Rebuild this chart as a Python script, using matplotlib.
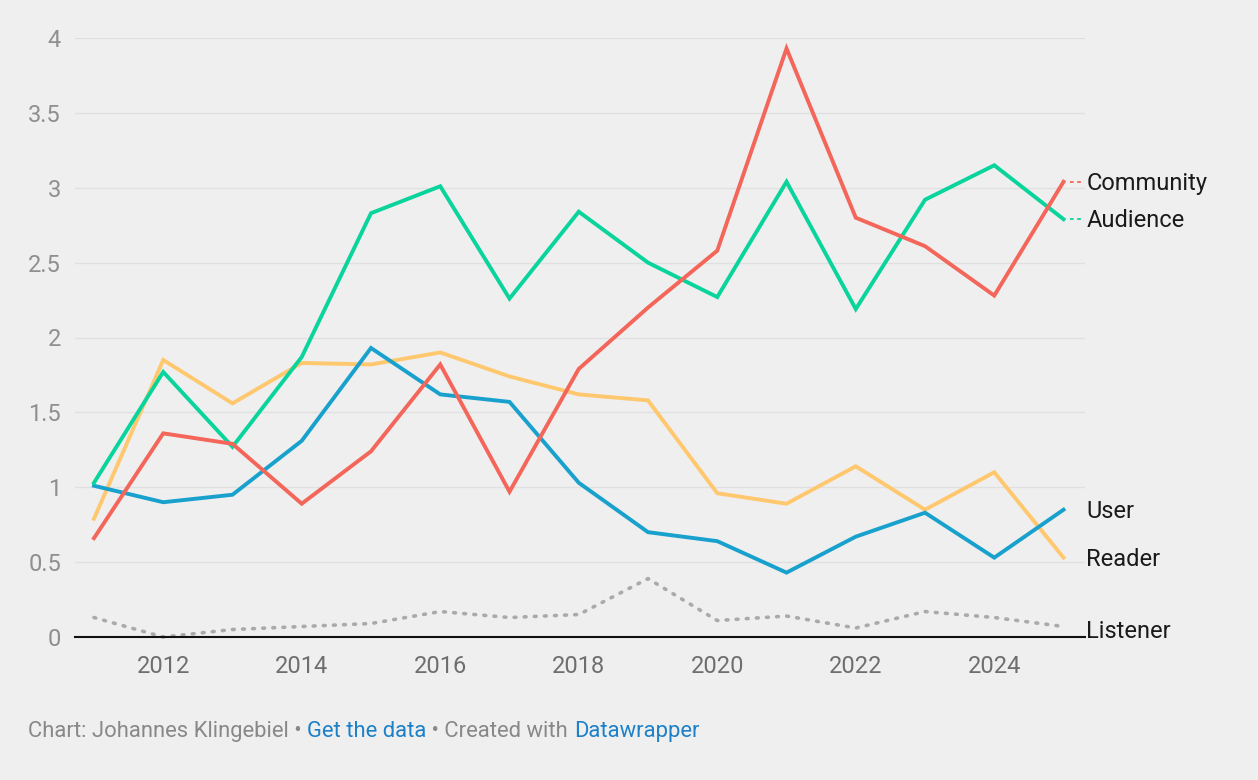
import numpy as np
import matplotlib.pyplot as plt

plt.rcParams['font.family'] = ['Roboto', 'DejaVu Sans']

years = list(range(2011, 2026))
community = [0.66, 1.36, 1.29, 0.89, 1.24, 1.82, 0.97, 1.79, 2.20, 2.58, 3.93, 2.80, 2.61, 2.28, 3.04]
audience = [1.03, 1.77, 1.27, 1.87, 2.83, 3.01, 2.26, 2.84, 2.50, 2.27, 3.04, 2.19, 2.92, 3.15, 2.79]
reader = [0.79, 1.85, 1.56, 1.83, 1.82, 1.90, 1.74, 1.62, 1.58, 0.96, 0.89, 1.14, 0.85, 1.10, 0.53]
user = [1.01, 0.90, 0.95, 1.31, 1.93, 1.62, 1.57, 1.03, 0.70, 0.64, 0.43, 0.67, 0.83, 0.53, 0.85]
listener = [0.13, 0.0, 0.05, 0.07, 0.09, 0.17, 0.13, 0.15, 0.39, 0.11, 0.14, 0.06, 0.17, 0.13, 0.07]

yticks = [0, 0.5, 1, 1.5, 2, 2.5, 3, 3.5, 4]
ytick_labels = ['0', '0.5', '1', '1.5', '2', '2.5', '3', '3.5', '4']
xticks = [2012, 2014, 2016, 2018, 2020, 2022, 2024]

bg = '#efefef'
fig = plt.figure(figsize=(12.58, 7.80), dpi=100, facecolor=bg)
ax = fig.add_axes([75/1258, 143/780, 1010/1258, 599/780], facecolor=bg)

series = [
    ('Reader', reader, '#ffc86e'),
    ('User', user, '#18a1cd'),
    ('Audience', audience, '#09d49b'),
    ('Community', community, '#f4655a'),
]
ax.plot(years, listener, color='#aaaaaa', lw=2.6, ls=(0, (0.5, 2.3)),
        dash_capstyle='round', clip_on=False, zorder=3)
for name, vals, col in series:
    ax.plot(years, vals, color=col, lw=2.8, solid_joinstyle='miter', clip_on=False, zorder=4)

ax.set_xlim(2010.726, 2025.31)
ax.set_ylim(0, 4)
ax.set_yticks(yticks)
ax.set_yticklabels(ytick_labels)
ax.set_xticks(xticks)
ax.grid(axis='y', color='#e0e0e0', lw=1)
ax.set_axisbelow(True)
for s in ['top', 'right', 'left']:
    ax.spines[s].set_visible(False)
ax.spines['bottom'].set_color('#111111')
ax.spines['bottom'].set_linewidth(1.5)
ax.spines['bottom'].set_zorder(5)
ax.tick_params(axis='both', length=0, labelsize=17, labelcolor='#8f8f8f')
ax.tick_params(axis='x', pad=13, labelcolor='#6e6e6e')
ax.tick_params(axis='y', pad=10)

# right side labels
labels = [('Community', community[-1], '#f4655a'),
          ('Audience', audience[-1], '#09d49b'),
          ('User', user[-1], None),
          ('Reader', reader[-1], None),
          ('Listener', listener[-1] - 0.02, None)]
for name, yv, col in labels:
    if col is not None:
        ax.plot([2025.1, 2025.3], [yv, yv], color=col, lw=1.3, ls=(0, (2, 2)), clip_on=False)
    ax.text(2025.33, yv - 0.012, name, fontsize=17, color='#1a1a1a', va='center', ha='left')

# footer
parts = [('Chart: Johannes Klingebiel • ', '#888888'),
         ('Get the data', '#1d81c9'),
         (' • Created with ', '#888888'),
         ('Datawrapper', '#1d81c9')]
fig.canvas.draw()
r = fig.canvas.get_renderer()
x = 28 / 1258
for txt, col in parts:
    t = fig.text(x, 1 - 737/780, txt, fontsize=15.8, color=col, va='baseline', ha='left')
    bb = t.get_window_extent(renderer=r)
    x += bb.width / 1258

fig.savefig('out.png', dpi=100, facecolor=bg)
